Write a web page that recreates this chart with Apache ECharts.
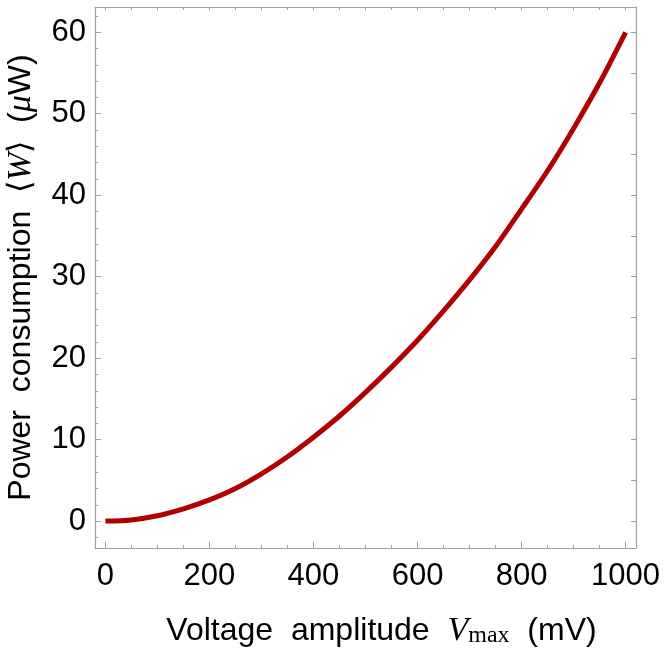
<!DOCTYPE html>
<html><head><meta charset="utf-8">
<script src="https://cdn.jsdelivr.net/npm/echarts@6/dist/echarts.min.js"></script>
<style>html,body{margin:0;padding:0;background:#fff}#c{width:664px;height:650px}</style>
</head><body><div id="c"></div>
<script>
// Data
const voltage = [0,50,100,150,200,250,300,350,400,450,500,550,600,650,700,750,800,850,900,950,1000];
const power = [0,0.15,0.65,1.5,2.6,4.0,5.8,7.9,10.3,12.9,15.8,18.9,22.2,25.8,29.6,33.7,38.3,43.0,48.2,53.8,60.0];
const xMajorTicks = [0,200,400,600,800,1000];
const xMinorTicks = [0,50,100,150,200,250,300,350,400,450,500,550,600,650,700,750,800,850,900,950,1000];
const yMajorTicks = [0,10,20,30,40,50,60];
const yMinorTicks = [-2,0,2,4,6,8,10,12,14,16,18,20,22,24,26,28,30,32,34,36,38,40,42,44,46,48,50,52,54,56,58,60,62];
const yRightTicks = [0,5,10,15,20,25,30,35,40,45,50,55,60];

const X_MIN=-20, X_MAX=1020, Y_MIN=-3.3, Y_MAX=63.1;
const frame='#a0a0a0';
const FONT='"Liberation Sans", Arial, Helvetica, sans-serif';
const SERIF='"Liberation Serif", "DejaVu Serif", serif';
const fmt = v => String(v);

function xa(opts){
  return Object.assign({type:'value',min:X_MIN,max:X_MAX,splitLine:{show:false},
    axisLine:{show:false,onZero:false},axisLabel:{show:false},axisTick:{show:false}},opts);
}
function ya(opts){
  return Object.assign({type:'value',min:Y_MIN,max:Y_MAX,splitLine:{show:false},
    axisLine:{show:false,onZero:false},axisLabel:{show:false},axisTick:{show:false}},opts);
}
const chart=echarts.init(document.getElementById('c'),null,{renderer:'canvas'});
chart.setOption({
  animation:false,
  backgroundColor:'#fff',
  grid:{left:95,top:7,right:28,bottom:102,containLabel:false,outerBoundsMode:'none'},
  xAxis:[
    xa({position:'bottom',
      axisLine:{show:true,onZero:false,lineStyle:{color:frame,width:1.2}},
      axisTick:{show:true,inside:true,length:6,customValues:xMajorTicks,lineStyle:{color:frame,width:1}},
      axisLabel:{show:true,customValues:xMajorTicks,formatter:fmt,margin:13,fontFamily:FONT,fontSize:31,color:'#000'},
      name:'Voltage  amplitude  {it|V}{sub|max}  (mV)',nameLocation:'middle',nameGap:66,
      nameTextStyle:{fontFamily:FONT,fontSize:32,color:'#000',padding:[0,0,0,32],
        rich:{it:{fontFamily:SERIF,fontStyle:'italic',fontSize:34,color:'#000'},
              sub:{fontFamily:SERIF,fontSize:24,color:'#000',padding:[10,0,0,0]}}}
    }),
    xa({position:'bottom',
      axisTick:{show:true,inside:true,length:3,customValues:xMinorTicks,lineStyle:{color:frame,width:1}},
      axisLabel:{show:false,customValues:xMinorTicks}}),
    xa({position:'top',
      axisLine:{show:true,onZero:false,lineStyle:{color:frame,width:1.2}},
      axisTick:{show:true,inside:true,length:3,customValues:xMinorTicks,lineStyle:{color:frame,width:1}},
      axisLabel:{show:false,customValues:xMinorTicks}})
  ],
  yAxis:[
    ya({position:'left',
      axisLine:{show:true,onZero:false,lineStyle:{color:frame,width:1.2}},
      axisTick:{show:true,inside:true,length:6,customValues:yMajorTicks,lineStyle:{color:frame,width:1}},
      axisLabel:{show:true,customValues:yMajorTicks,formatter:fmt,margin:9,fontFamily:FONT,fontSize:31,color:'#000'},
      name:'Power  consumption  ⟨{it|W}⟩  ({it|μ}W)',nameLocation:'middle',nameGap:57,nameRotate:90,
      nameTextStyle:{fontFamily:FONT,fontSize:32,color:'#000',
        rich:{it:{fontFamily:SERIF,fontStyle:'italic',fontSize:34,color:'#000'}}}
    }),
    ya({position:'left',
      axisTick:{show:true,inside:true,length:3,customValues:yMinorTicks,lineStyle:{color:frame,width:1}},
      axisLabel:{show:false,customValues:yMinorTicks}}),
    ya({position:'right',
      axisLine:{show:true,onZero:false,lineStyle:{color:frame,width:1.2}},
      axisTick:{show:true,inside:true,length:5,customValues:yRightTicks,lineStyle:{color:frame,width:1}},
      axisLabel:{show:false,customValues:yRightTicks}})
  ],
  series:[{
    type:'line',xAxisIndex:0,yAxisIndex:0,smooth:0.3,symbol:'none',
    data:voltage.map((v,i)=>[v,power[i]]),
    lineStyle:{color:'#b00000',width:5,cap:'butt'}
  }]
});
</script></body></html>
